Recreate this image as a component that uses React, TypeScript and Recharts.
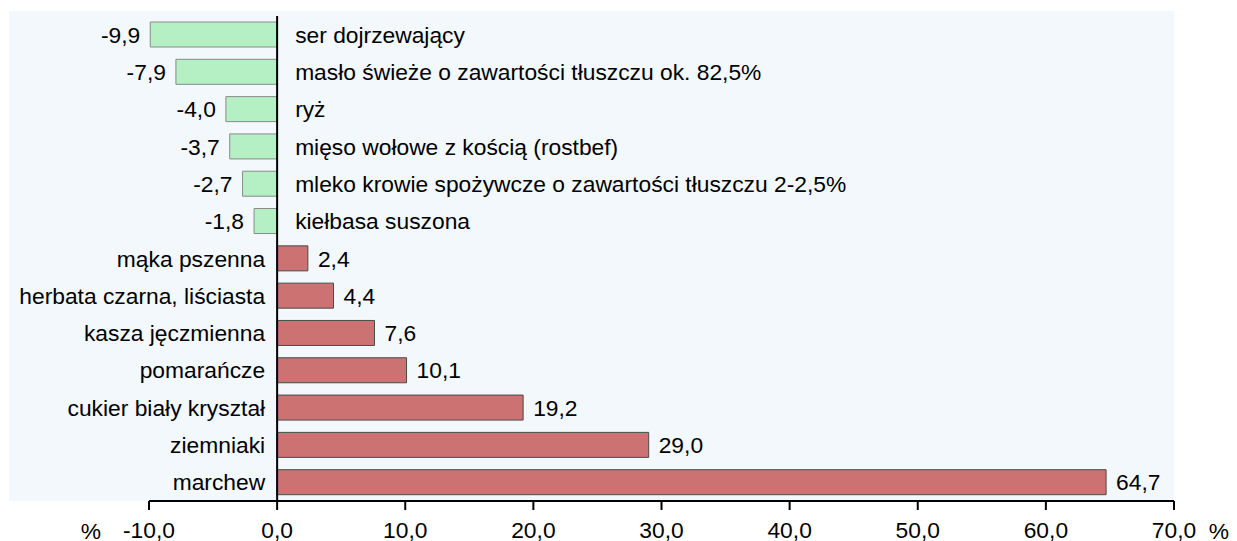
import React from "react";
import { BarChart, Bar, XAxis, YAxis, Cell, LabelList, ReferenceLine } from "recharts";

const categories = [
  "ser dojrzewający",
  "masło świeże o zawartości tłuszczu ok. 82,5%",
  "ryż",
  "mięso wołowe z kością (rostbef)",
  "mleko krowie spożywcze o zawartości tłuszczu 2-2,5%",
  "kiełbasa suszona",
  "mąka pszenna",
  "herbata czarna, liściasta",
  "kasza jęczmienna",
  "pomarańcze",
  "cukier biały kryształ",
  "ziemniaki",
  "marchew",
];
const values = [-9.9, -7.9, -4.0, -3.7, -2.7, -1.8, 2.4, 4.4, 7.6, 10.1, 19.2, 29.0, 64.7];
const xTicks = [-10, 0, 10, 20, 30, 40, 50, 60, 70];

const data = categories.map((name, i) => ({ name, value: values[i] }));

const FONT = "'Liberation Sans', Arial, sans-serif";
const FS = 22.8;
const fmt = (v: number) => v.toFixed(1).replace(".", ",");

const ValueLabel = (props: any) => {
  const { x, y, width, height, index } = props;
  const v = values[index];
  const left = Math.min(x, x + width);
  const right = Math.max(x, x + width);
  const cy = y + height / 2;
  if (v < 0) {
    return (
      <text x={left - 10} y={cy} dy="0.36em" textAnchor="end" fontSize={FS} fontFamily={FONT} fill="#000">
        {fmt(v)}
      </text>
    );
  }
  return (
    <text x={right + 10} y={cy} dy="0.36em" textAnchor="start" fontSize={FS} fontFamily={FONT} fill="#000">
      {fmt(v)}
    </text>
  );
};

const NameLabel = (props: any) => {
  const { x, y, width, height, index } = props;
  const v = values[index];
  const left = Math.min(x, x + width);
  const right = Math.max(x, x + width);
  const cy = y + height / 2;
  if (v < 0) {
    return (
      <text x={right + 18} y={cy} dy="0.36em" textAnchor="start" fontSize={FS} fontFamily={FONT} fill="#000">
        {categories[index]}
      </text>
    );
  }
  return (
    <text x={left - 12} y={cy} dy="0.36em" textAnchor="end" fontSize={FS} fontFamily={FONT} fill="#000">
      {categories[index]}
    </text>
  );
};

const PercentLabels = (props: any) => {
  const { viewBox } = props;
  const { x, y, width } = viewBox;
  return (
    <g>
      <text x={x - 58} y={y + 22} dy="0.71em" textAnchor="middle" fontSize={FS} fontFamily={FONT} fill="#000">
        %
      </text>
      <text x={x + width + 45} y={y + 22} dy="0.71em" textAnchor="middle" fontSize={FS} fontFamily={FONT} fill="#000">
        %
      </text>
    </g>
  );
};

export default function App() {
  return (
    <div style={{ position: "relative", width: 1229, height: 533 }}>
      <div
        style={{
          position: "absolute",
          left: 1,
          top: 3,
          width: 1165,
          height: 490,
          background: "#f2f8fc",
        }}
      />
      <div style={{ position: "absolute", left: 0, top: 0 }}>
        <BarChart
          width={1229}
          height={533}
          data={data}
          layout="vertical"
          margin={{ top: 8, right: 63, bottom: 10, left: 141 }}
          barSize={25}
        >
          <XAxis
            type="number"
            domain={[-10, 70]}
            ticks={xTicks}
            tickFormatter={fmt}
            interval={0}
            height={30}
            axisLine={{ stroke: "#000", strokeWidth: 2 }}
            tickLine={{ stroke: "#000", strokeWidth: 2 }}
            tickSize={9}
            tickMargin={12}
            tick={{ fill: "#000", fontSize: FS, fontFamily: FONT }}
            label={<PercentLabels />}
            allowDataOverflow
          />
          <YAxis type="category" dataKey="name" hide />
          <Bar dataKey="value" isAnimationActive={false}>
            {data.map((d, i) => (
              <Cell
                key={i}
                fill={d.value < 0 ? "#b4f0c4" : "#cc7272"}
                stroke={d.value < 0 ? "#8a8a8a" : "#4a4a4a"}
                strokeWidth={1}
              />
            ))}
            <LabelList dataKey="value" content={<ValueLabel />} />
            <LabelList dataKey="name" content={<NameLabel />} />
          </Bar>
          <ReferenceLine x={0} stroke="#000" strokeWidth={2} />
        </BarChart>
      </div>
    </div>
  );
}
